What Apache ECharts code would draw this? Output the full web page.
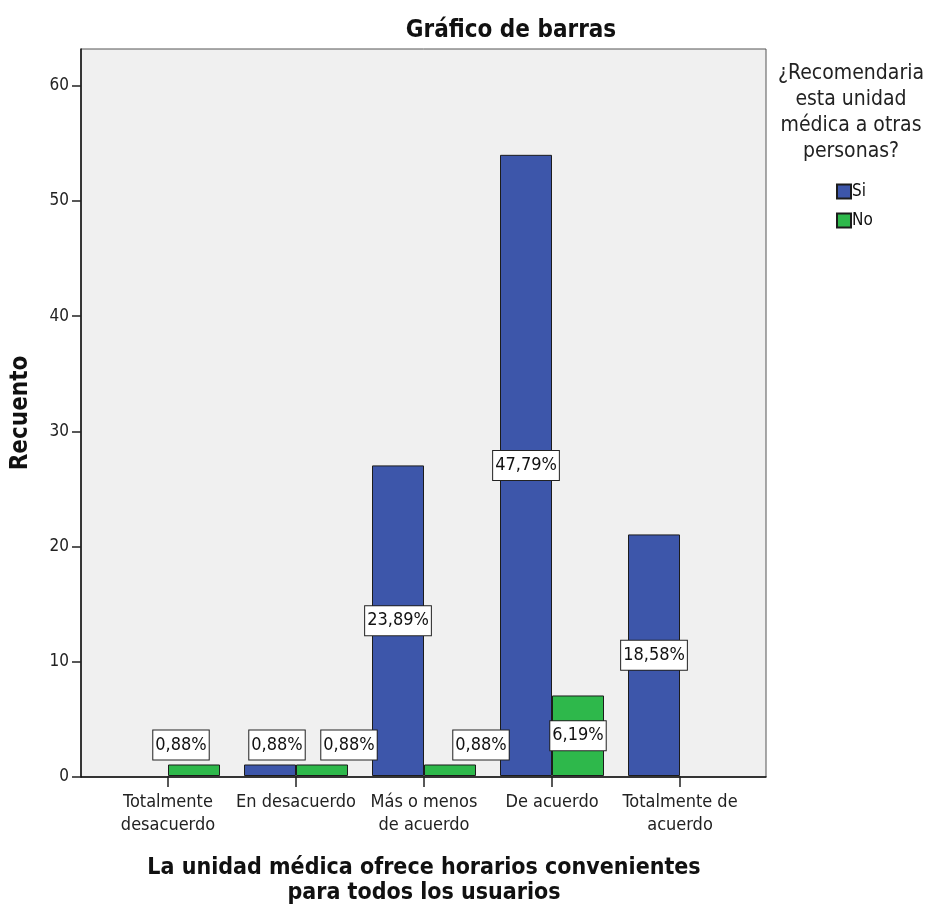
<!DOCTYPE html>
<html>
<head>
<meta charset="utf-8">
<script src="https://cdn.jsdelivr.net/npm/echarts@6/dist/echarts.min.js"></script>
<style>
  html, body { margin: 0; padding: 0; background: #ffffff; }
  #chart { width: 932px; height: 911px; }
</style>
</head>
<body>
<div id="chart"></div>
<script>
// Respuestas: horario conveniente vs. recomendación de la unidad médica
const categories = ['Totalmente\ndesacuerdo', 'En desacuerdo', 'Más o menos\nde acuerdo', 'De acuerdo', 'Totalmente de\nacuerdo'];
const seriesNames = ['Si', 'No'];
const siValues = [0, 1, 27, 54, 21];
const noValues = [1, 1, 1, 7, 0];
const yTicks = [0, 10, 20, 30, 40, 50, 60];

// Horizontal nudge of the small percentage boxes so they don't collide
const labelShift = { Si: [0, 7, 0, 0, 0], No: [-13, 27, 31, 0, 0] };

const FONT = "'DejaVu Sans Condensed', 'Liberation Sans Narrow', 'Arial Narrow', sans-serif";
const YMAX = 63.2;
const total = siValues.concat(noValues).reduce((a, b) => a + b, 0);
const pct = v => (v / total * 100).toFixed(2).replace('.', ',') + '%';

function buildData(values, name) {
  return values.map((v, i) => {
    const small = v < 3;
    return {
      value: v,
      itemStyle: v > 0 ? {} : { borderWidth: 0 },
      label: {
        show: v > 0,
        position: small ? 'top' : 'inside',
        distance: 5,
        offset: [labelShift[name][i], 0]
      }
    };
  });
}

const chart = echarts.init(document.getElementById('chart'), null, { renderer: 'canvas' });

const labelStyle = {
  formatter: p => pct(p.value),
  fontFamily: FONT,
  fontSize: 18,
  lineHeight: 20,
  color: '#111',
  backgroundColor: '#ffffff',
  borderColor: '#222',
  borderWidth: 1,
  padding: [5, 2, 4, 2]
};

chart.setOption({
  animation: false,
  textStyle: { fontFamily: FONT },
  title: {
    text: 'Gráfico de barras',
    left: 506,
    textAlign: 'center',
    top: 14,
    textStyle: { fontFamily: FONT, fontSize: 24, fontWeight: 'bold', color: '#111' }
  },
  legend: {
    orient: 'vertical',
    left: 831,
    top: 178,
    itemWidth: 14,
    itemHeight: 14,
    itemGap: 12,
    icon: 'rect',
    data: seriesNames,
    textStyle: { fontFamily: FONT, fontSize: 17, color: '#111', padding: [0, 0, 0, -4] }
  },
  graphic: [{
    type: 'text',
    x: 851,
    y: 61,
    style: {
      text: '¿Recomendaria\nesta unidad\nmédica a otras\npersonas?',
      align: 'center',
      verticalAlign: 'top',
      font: '21px ' + FONT,
      lineHeight: 26,
      fill: '#222'
    }
  }],
  grid: [
    { left: 81, top: 49, width: 685, height: 728, show: true, backgroundColor: '#f0f0f0', borderColor: '#555', borderWidth: 1 },
    { left: 104, top: 49, width: 640, height: 728 }
  ],
  xAxis: [
    {
      gridIndex: 0, type: 'value', min: 0, max: 1,
      axisLine: { show: true, lineStyle: { color: '#111', width: 1.5 } },
      axisTick: { show: false }, axisLabel: { show: false }, splitLine: { show: false }
    },
    {
      gridIndex: 1,
      type: 'category',
      data: categories,
      axisLine: { show: false },
      axisTick: { show: true, alignWithLabel: true, length: 11, lineStyle: { color: '#222', width: 1.5 } },
      axisLabel: { interval: 0, fontFamily: FONT, fontSize: 18, lineHeight: 23, color: '#222', margin: 15 },
      name: 'La unidad médica ofrece horarios convenientes\npara todos los usuarios',
      nameLocation: 'middle',
      nameGap: 80,
      nameTextStyle: { fontFamily: FONT, fontSize: 23, fontWeight: 'bold', lineHeight: 25, color: '#111' }
    }
  ],
  yAxis: [
    {
      gridIndex: 0,
      type: 'value',
      min: 0,
      max: YMAX,
      interval: 10,
      splitLine: { show: false },
      axisLine: { show: true, lineStyle: { color: '#111', width: 1.5 } },
      axisTick: { show: true, length: 9, customValues: yTicks, lineStyle: { color: '#222', width: 1.5 } },
      axisLabel: { customValues: yTicks, fontFamily: FONT, fontSize: 17, color: '#222', margin: 12 },
      name: 'Recuento',
      nameLocation: 'middle',
      nameGap: 48,
      nameTextStyle: { fontFamily: FONT, fontSize: 24, fontWeight: 'bold', color: '#111' }
    },
    { gridIndex: 1, type: 'value', min: 0, max: YMAX, show: false }
  ],
  series: [
    {
      name: 'Si',
      type: 'bar',
      xAxisIndex: 1,
      yAxisIndex: 1,
      barWidth: 52,
      barGap: '0%',
      itemStyle: { color: '#3d56aa', borderColor: '#1c1c1c', borderWidth: 1 },
      label: labelStyle,
      data: buildData(siValues, 'Si')
    },
    {
      name: 'No',
      type: 'bar',
      xAxisIndex: 1,
      yAxisIndex: 1,
      barWidth: 52,
      barGap: '0%',
      itemStyle: { color: '#2eb84b', borderColor: '#1c1c1c', borderWidth: 1 },
      label: labelStyle,
      data: buildData(noValues, 'No')
    }
  ]
});
</script>
</body>
</html>
